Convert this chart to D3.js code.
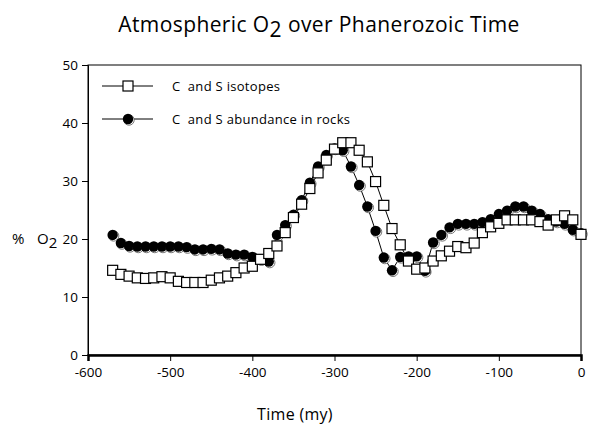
<!DOCTYPE html>
<html>
<head>
<meta charset="utf-8">
<script src="https://cdn.jsdelivr.net/npm/d3@7"></script>
<style>
  body { margin: 0; background: #fff; }
  text { font-family: "Open Sans", "Noto Sans", sans-serif; fill: #000; }
</style>
</head>
<body>
<div id="container"></div>
<script>
/* CONSTANTS AND GLOBALS */
const width = 589;
const height = 432;
const margin = { top: 65, right: 8, bottom: 77, left: 88 };

/* DATA */
const years = [-570, -560, -550, -540, -530, -520, -510, -500, -490, -480,
  -470, -460, -450, -440, -430, -420, -410, -400, -390, -380,
  -370, -360, -350, -340, -330, -320, -310, -300, -290, -280,
  -270, -260, -250, -240, -230, -220, -210, -200, -190, -180,
  -170, -160, -150, -140, -130, -120, -110, -100, -90, -80,
  -70, -60, -50, -40, -30, -20, -10, 0];

// C and S isotopes (open squares)
const isotopes = [14.6, 13.9, 13.6, 13.3, 13.2, 13.3, 13.5, 13.3, 12.7, 12.5,
  12.5, 12.5, 12.9, 13.3, 13.6, 14.2, 15.0, 15.3, 16.5, 17.5,
  18.8, 21.1, 23.7, 26.0, 28.7, 31.4, 33.6, 35.5, 36.6, 36.6,
  35.3, 33.3, 29.9, 25.8, 21.8, 19.0, 16.2, 14.8, 15.0, 16.2,
  17.1, 17.9, 18.7, 18.5, 19.3, 21.1, 22.1, 22.7, 23.3, 23.3,
  23.3, 23.3, 23.0, 22.4, 23.3, 24.0, 23.3, 20.8];

// C and S abundance in rocks (filled circles)
const rocks = [20.7, 19.3, 18.8, 18.7, 18.7, 18.7, 18.7, 18.7, 18.7, 18.6,
  18.2, 18.2, 18.3, 18.2, 17.5, 17.3, 17.3, 16.9, 16.5, 16.1,
  20.7, 22.4, 24.2, 26.7, 29.7, 32.5, 34.5, 35.6, 35.3, 32.5,
  29.3, 25.6, 21.4, 16.8, 14.6, 16.9, 17.0, 17.0, 14.5, 19.4,
  20.7, 22.0, 22.6, 22.6, 22.6, 22.9, 23.4, 24.3, 24.9, 25.6,
  25.6, 24.9, 24.3, 23.4, 23.0, 22.6, 21.6, 21.0];

const xTicks = [-600, -500, -400, -300, -200, -100, 0];
const yTicks = [0, 10, 20, 30, 40, 50];
const legendLabels = ["C  and S isotopes", "C  and S abundance in rocks"];

/* HTML ELEMENTS */
const svg = d3.select("#container")
  .append("svg")
  .attr("width", width)
  .attr("height", height)

/* SCALES */
const xScale = d3.scaleLinear()
  .domain([-600, 0])
  .range([margin.left, width - margin.right])

const yScale = d3.scaleLinear()
  .domain([0, 50])
  .range([height - margin.bottom, margin.top])

// frame (top + right)
svg.append("rect")
  .attr("x", margin.left)
  .attr("y", margin.top)
  .attr("width", width - margin.left - margin.right)
  .attr("height", height - margin.top - margin.bottom)
  .attr("fill", "none")
  .attr("stroke", "#000")
  .attr("stroke-width", 1)

// AXES - plain hyphen for negatives like the original
const xAxis = svg.append("g")
  .attr("transform", `translate(0,${height - margin.bottom})`)
  .call(d3.axisBottom(xScale).tickValues(xTicks).tickSize(6).tickPadding(6)
    .tickFormat(d => String(d)))

xAxis.select(".domain").attr("stroke-width", 2.5)
xAxis.selectAll("text").style("font-size", "13.5px").attr("fill", "#000")

const yAxis = svg.append("g")
  .attr("transform", `translate(${margin.left},0)`)
  .call(d3.axisLeft(yScale).tickValues(yTicks).tickSize(6).tickPadding(4)
    .tickFormat(d => String(d)))

yAxis.selectAll("text").style("font-size", "13.5px").attr("fill", "#000")

// TITLE
const title = svg.append("text")
  .attr("x", 319)
  .attr("y", 32)
  .attr("text-anchor", "middle")
  .style("font-size", "21px")
  .style("letter-spacing", "0.4px")
title.append("tspan").text("Atmospheric O")
title.append("tspan").attr("dy", 5).text("2")
title.append("tspan").attr("dy", -5).text(" over Phanerozoic Time")

// AXIS LABELS
const yLab = svg.append("text")
  .attr("y", 244)
  .style("font-size", "15px")
yLab.append("tspan").attr("x", 12).text("%")
yLab.append("tspan").attr("x", 37).text("O")
yLab.append("tspan").attr("dy", 4).text("2")

svg.append("text")
  .attr("x", 295)
  .attr("y", 420)
  .attr("text-anchor", "middle")
  .style("font-size", "16px")
  .style("letter-spacing", "0.3px")
  .text("Time (my)")

/* LINES */
const line = d3.line()
  .x(d => xScale(d[0]))
  .y(d => yScale(d[1]))

const rockData = years.map((y, i) => [y, rocks[i]])
const isoData = years.map((y, i) => [y, isotopes[i]])

svg.append("path")
  .datum(rockData)
  .attr("d", line)
  .attr("fill", "none")
  .attr("stroke", "#000")
  .attr("stroke-width", 1)

svg.append("path")
  .datum(isoData)
  .attr("d", line)
  .attr("fill", "none")
  .attr("stroke", "#000")
  .attr("stroke-width", 1)

// circles with a light lower-right edge
function drawCircle(g, cx, cy) {
  g.append("circle").attr("cx", cx + 1).attr("cy", cy + 1).attr("r", 5.2)
    .attr("fill", "#fff").attr("stroke", "#555").attr("stroke-width", 0.8)
  g.append("circle").attr("cx", cx).attr("cy", cy).attr("r", 5.2)
    .attr("fill", "#000")
}

function drawSquare(g, cx, cy) {
  g.append("rect").attr("x", cx - 5).attr("y", cy - 5)
    .attr("width", 10).attr("height", 10)
    .attr("fill", "#fff").attr("stroke", "#000").attr("stroke-width", 1.2)
}

const circG = svg.append("g")
rockData.forEach(d => drawCircle(circG, xScale(d[0]), yScale(d[1])))

const sqG = svg.append("g")
isoData.forEach(d => drawSquare(sqG, xScale(d[0]), yScale(d[1])))

/* LEGEND */
const legend = svg.append("g")
legendLabels.forEach((lab, i) => {
  const ly = 86 + i * 33
  legend.append("line")
    .attr("x1", 102).attr("x2", 153)
    .attr("y1", ly).attr("y2", ly)
    .attr("stroke", "#000")
  if (i === 0) drawSquare(legend, 128, ly)
  else drawCircle(legend, 128, ly)
  legend.append("text")
    .attr("x", 172)
    .attr("y", ly + 5)
    .style("font-size", "13px")
    .style("white-space", "pre")
    .style("letter-spacing", "0.3px")
    .text(lab)
})
</script>
</body>
</html>
